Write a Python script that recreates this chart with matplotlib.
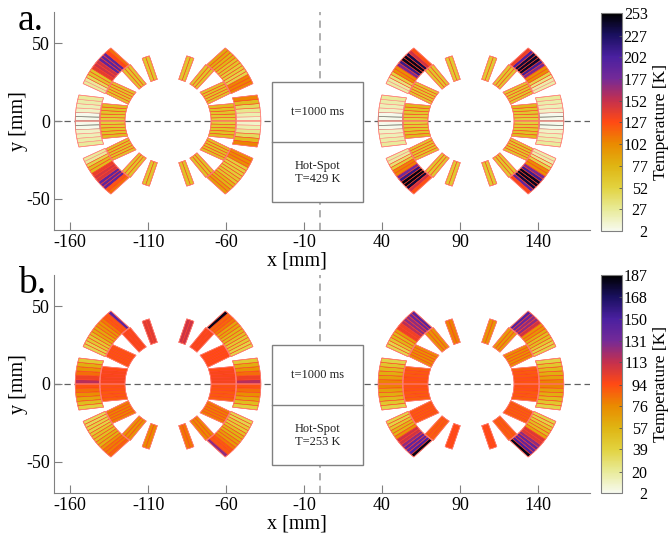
import numpy as np
import matplotlib
matplotlib.use('Agg')
import matplotlib.pyplot as plt
from matplotlib.collections import PolyCollection
from matplotlib.colors import LinearSegmentedColormap, Normalize
from matplotlib.cm import ScalarMappable
from matplotlib.patches import Rectangle

plt.rcParams['font.family'] = ['Liberation Serif', 'DejaVu Serif']
plt.rcParams['axes.unicode_minus'] = False

# temperature per block, bands run from the midplane outwards
# block order: inner 1-4, outer 5-6
A_L_UL = [[56, 60, 64, 66, 70], [64], [64], [62], [3, 3, 14, 18, 22, 26], [26, 46, 66, 140, 150, 190, 192, 128, 112]]
A_L_UR = [[56, 60, 64, 66, 70], [66], [64], [62], [12, 20, 30, 44, 70, 104], [104, 50, 56, 64, 76, 84]]
A_L_LL = [[56, 60, 64, 66, 70], [66], [64], [62], [3, 3, 14, 18, 22, 26], [26, 50, 72, 138, 146, 190, 190, 122, 112]]
A_L_LR = [[56, 60, 64, 66, 70], [68], [66], [66], [12, 20, 30, 44, 70, 104], [100, 54, 56, 62, 76, 90]]
A_R_UL = [[54, 58, 62, 66, 72], [62], [62], [60], [3, 3, 14, 18, 22, 26], [24, 36, 54, 100, 175, 212, 246, 232, 150, 124]]
A_R_UR = [[54, 58, 62, 66, 72], [62], [62], [60], [3, 3, 14, 18, 22, 26], [22, 32, 50, 100, 176, 206, 242, 236, 200, 136]]
A_R_LL = [[54, 58, 62, 66, 72], [64], [62], [60], [3, 3, 14, 18, 22, 26], [24, 38, 56, 104, 178, 214, 248, 238, 150, 124]]
A_R_LR = [[54, 58, 62, 66, 72], [64], [62], [60], [3, 3, 14, 18, 22, 26], [22, 32, 50, 100, 176, 208, 244, 236, 190, 130]]

B_L_UL = [[98, 96, 94], [92], [96], [104], [116, 100, 84, 72, 60, 44], [36, 44, 52, 62, 70, 80, 90, 142]]
B_L_UR = [[98, 96, 94], [94], [96], [110], [116, 100, 84, 72, 60, 44], [38, 44, 50, 56, 64, 80, 86, 182]]
B_L_LL = [[92, 90, 88], [78], [72], [76], [92, 84, 74, 64, 52, 40], [34, 38, 44, 50, 58, 70, 80, 86]]
B_L_LR = [[92, 90, 88], [80], [76], [82], [92, 84, 74, 64, 52, 40], [36, 42, 50, 58, 68, 80, 90, 126]]
B_R_UL = [[92, 90, 88], [74], [72], [78], [78, 66, 60, 54, 46, 38], [36, 46, 56, 68, 100, 116, 126, 136, 144]]
B_R_UR = [[92, 90, 88], [74], [68], [72], [78, 66, 60, 54, 46, 38], [38, 44, 52, 60, 72, 110, 126, 136, 146]]
B_R_LL = [[92, 90, 88], [90], [88], [94], [78, 66, 60, 54, 46, 38], [38, 46, 56, 72, 110, 126, 140, 150, 182]]
B_R_LR = [[92, 90, 88], [88], [88], [94], [78, 66, 60, 54, 46, 38], [38, 44, 52, 64, 106, 126, 140, 150, 182]]

TICKS_A = [2, 27, 52, 77, 102, 127, 152, 177, 202, 227, 253]
TICKS_B = [2, 20, 39, 57, 76, 94, 113, 131, 150, 168, 187]
X_TICKS = [-160, -110, -60, -10, 40, 90, 140]
Y_TICKS = [-50, 0, 50]

# r_in, r_out, a1_in, a2_in, a1_out, a2_out, cables
BLOCKS = [
    (27.6, 43.5, 0, 20.8, 0, 15, 5),
    (27.6, 43.5, 22.8, 42, 24, 35.5, 5),
    (27.6, 43.5, 47.8, 59.6, 47.6, 56.3, 3),
    (27.6, 43.5, 66.5, 75.6, 67.6, 74, 2),
    (43.9, 59.5, 0, 19.8, 0, 16.3, 6),
    (43.9, 59.5, 23.5, 55.5, 23.8, 52, 13),
]

cmap = LinearSegmentedColormap.from_list('temp', [
    '#f7faee', '#e8ea96', '#e2d23e', '#dfb412', '#ea8a00', '#ff4a14',
    '#c4304e', '#742a98', '#4a20a0', '#1a1060', '#000000'])


def cable_polys(block, values, cx, sx, sy):
    r1, r2, a1, a2, b1, b2, n = block
    polys, vals = [], []
    for k in range(n):
        p1 = np.radians(a1 + (a2 - a1) * np.array([k, k + 1]) / n)
        p2 = np.radians(b1 + (b2 - b1) * np.array([k, k + 1]) / n)
        t1 = np.linspace(p1[0], p1[1], 6)
        t2 = np.linspace(p2[1], p2[0], 6)
        x = np.r_[r1 * np.cos(t1), r2 * np.cos(t2)]
        y = np.r_[r1 * np.sin(t1), r2 * np.sin(t2)]
        polys.append(np.c_[cx + sx * x, sy * y])
        vals.append(values[int(k * len(values) / n)])
    return polys, vals


def edge_colour(v):
    if v < 6:
        return '#5a5a50'
    if v < 32:
        return '#ff8a80'
    return '#ff3a20'


def draw_panel(ax, cax, quads, ticks, hot, letter):
    vmin, vmax = ticks[0], ticks[-1]
    norm = Normalize(vmin, vmax)
    ax.set_xlim(-170.3, 173.3)
    ax.set_ylim(-70, 70)
    ax.axhline(0, color='#606060', lw=0.9, ls=(0, (5, 3)), zorder=1)
    ax.axvline(0, color='#a8a8a8', lw=1.3, ls=(0, (4, 3)), zorder=1)

    for (cx, sx, sy), data in quads:
        for block, values in zip(BLOCKS, data):
            polys, vals = cable_polys(block, values, cx, sx, sy)
            edges = [edge_colour(v) for v in vals]
            pc = PolyCollection(polys, array=np.array(vals), cmap=cmap, norm=norm,
                                edgecolors=edges, linewidths=0.4, zorder=2)
            ax.add_collection(pc)
            # block outline
            outline = np.vstack([p[:6] for p in polys] + [p[6:] for p in polys[::-1]])
            ax.fill(outline[:, 0], outline[:, 1], fill=False, ec='#ff8078', lw=0.5, zorder=3)

    ax.add_patch(Rectangle((-30.5, -52.3), 58.4, 77.3, fc='white', ec='#808080', lw=1.0, zorder=4))
    ax.plot([-30.5, 27.9], [-13.5, -13.5], color='#808080', lw=1.0, zorder=5)
    ax.text(-1.3, 5.8, 't=1000 ms', ha='center', va='center', fontsize=9, color='#222222', zorder=6)
    ax.text(-1.3, -33, 'Hot-Spot\n' + hot, ha='center', va='center', fontsize=9, color='#222222',
            linespacing=1.05, zorder=6)

    for s in ['top', 'right']:
        ax.spines[s].set_visible(False)
    for s in ['left', 'bottom']:
        ax.spines[s].set_color('#808080')
    ax.set_xticks(X_TICKS)
    ax.set_yticks(Y_TICKS)
    ax.tick_params(direction='in', length=6, width=0.8, color='#808080', labelsize=13, pad=3)
    ax.set_xlabel('x [mm]', fontsize=14.5, labelpad=0)
    ax.set_ylabel('y [mm]', fontsize=14.5, labelpad=0)
    ax.xaxis.set_label_coords(0.453, -0.1)
    ax.yaxis.set_label_coords(-0.048, 0.5)
    ax.text(-0.067, 0.96, letter, transform=ax.transAxes, fontsize=27, ha='left', va='center')

    sm = ScalarMappable(norm=norm, cmap=cmap)
    cb = fig.colorbar(sm, cax=cax, ticks=ticks)
    cb.outline.set_edgecolor('#808080')
    cb.ax.tick_params(direction='in', length=2, width=0.6, color='#555555', labelsize=11.5, pad=18.5)
    for lab in cb.ax.get_yticklabels():
        lab.set_ha('right')
    cb.set_label('Temperature [K]', fontsize=12.5)
    cb.ax.yaxis.set_label_coords(2.48, 0.5)


W, H = 670, 536
fig = plt.figure(figsize=(W / 100, H / 100), dpi=100)


def px_axes(x0, y0, x1, y1):
    return fig.add_axes([x0 / W, 1 - y1 / H, (x1 - x0) / W, (y1 - y0) / H])


ax_a = px_axes(54, 12, 590, 230)
ax_b = px_axes(54, 275, 590, 493)
cax_a = px_axes(601, 13, 622, 231)
cax_b = px_axes(601, 275, 622, 493)

LC, RC = -97.2, 97.0
draw_panel(ax_a, cax_a, [((LC, -1, 1), A_L_UL), ((LC, 1, 1), A_L_UR), ((LC, -1, -1), A_L_LL), ((LC, 1, -1), A_L_LR),
                         ((RC, -1, 1), A_R_UL), ((RC, 1, 1), A_R_UR), ((RC, -1, -1), A_R_LL), ((RC, 1, -1), A_R_LR)],
           TICKS_A, 'T=429 K', 'a.')
draw_panel(ax_b, cax_b, [((LC, -1, 1), B_L_UL), ((LC, 1, 1), B_L_UR), ((LC, -1, -1), B_L_LL), ((LC, 1, -1), B_L_LR),
                         ((RC, -1, 1), B_R_UL), ((RC, 1, 1), B_R_UR), ((RC, -1, -1), B_R_LL), ((RC, 1, -1), B_R_LR)],
           TICKS_B, 'T=253 K', 'b.')

fig.savefig('out.png', dpi=100)
